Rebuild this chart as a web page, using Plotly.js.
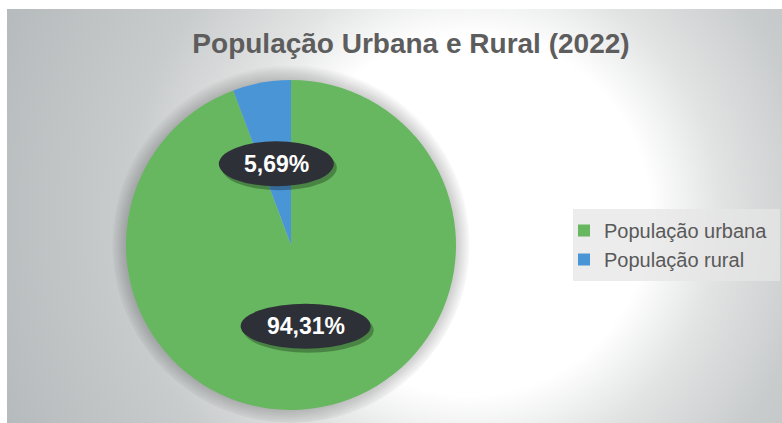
<!DOCTYPE html>
<html>
<head>
<meta charset="utf-8">
<script src="https://cdn.plot.ly/plotly-3.0.1.min.js"></script>
<style>
html,body{margin:0;padding:0;background:#fff;}
#wrap{position:relative;width:782px;height:423px;overflow:hidden;background:#fff;}
#bg{position:absolute;left:7px;top:9px;width:775px;height:414px;
  background:radial-gradient(circle at 463px 206px,#ffffff 0px,#ffffff 180px,#e2e3e3 250px,#c9cccd 345px,#b4b9bb 520px);}
#chart{position:absolute;left:0;top:0;width:782px;height:423px;}
</style>
</head>
<body>
<div id="wrap"><div id="bg"></div><div id="chart"></div></div>
<script>
// ---- data ----
const categories = ['População urbana', 'População rural'];
const values = [94.31, 5.69];
const sliceColors = ['#66b75f', '#4a95d5'];
const chartTitle = 'População Urbana e Rural (2022)';

// ---- layout constants (pixels) ----
const W = 782, H = 423;
const cx = 291, cy = 245, R = 165;
const labelRadiusFrac = 0.5;
const px = x => x / W;
const py = y => 1 - y / H;
const dom = r => ({x: [px(cx - r), px(cx + r)], y: [py(cy + r), py(cy - r)]});

const total = values.reduce((a, b) => a + b, 0);
const fmt = v => (v / total * 100).toFixed(2).replace('.', ',') + '%';

const shapes = [];
const annotations = [];

// legend background box
shapes.push({type: 'rect', xref: 'paper', yref: 'paper', layer: 'below',
  x0: px(573), x1: px(780), y0: py(281), y1: py(209),
  fillcolor: 'rgba(230,230,230,0.75)', line: {width: 0}});

let cum = 0;
values.forEach((v, i) => {
  const mid = (cum + v / 2) / total * 2 * Math.PI; // clockwise from 12 o'clock
  cum += v;
  const lx = cx + Math.sin(mid) * R * labelRadiusFrac;
  const ly = cy - Math.cos(mid) * R * labelRadiusFrac;
  const txt = fmt(v);
  const ew = 40 + 15 * txt.length, eh = 45;
  shapes.push({type: 'circle', xref: 'paper', yref: 'paper',
    x0: px(lx - ew / 2 + 3), x1: px(lx + ew / 2 + 3), y0: py(ly - eh / 2 + 4), y1: py(ly + eh / 2 + 4),
    fillcolor: 'rgba(0,0,0,0.28)', line: {width: 0}});
  shapes.push({type: 'circle', xref: 'paper', yref: 'paper',
    x0: px(lx - ew / 2), x1: px(lx + ew / 2), y0: py(ly - eh / 2), y1: py(ly + eh / 2),
    fillcolor: '#2d3036', line: {width: 0}});
  annotations.push({xref: 'paper', yref: 'paper', x: px(lx), y: py(ly), xanchor: 'center', yanchor: 'middle',
    text: txt, showarrow: false,
    font: {family: 'Liberation Sans, Arial, sans-serif', size: 23, color: '#ffffff', weight: 'bold'}});
});

// soft shadow halo rings behind the pie
const traces = [];
for (let k = 8; k >= 1; k--) {
  traces.push({type: 'pie', labels: ['_shadow'], values: [total], sort: false,
    marker: {colors: ['rgba(0,0,0,0.025)'], line: {width: 0}},
    textinfo: 'none', hoverinfo: 'skip', showlegend: false, domain: dom(R + 1.8 * k)});
}

traces.push({
  type: 'pie',
  labels: categories,
  values: values,
  sort: false,
  direction: 'clockwise',
  rotation: 0,
  marker: {colors: sliceColors, line: {width: 0}},
  textinfo: 'none',
  hoverinfo: 'skip',
  domain: dom(R)
});

const layout = {
  width: W, height: H,
  margin: {l: 0, r: 0, t: 0, b: 0},
  paper_bgcolor: 'rgba(0,0,0,0)',
  plot_bgcolor: 'rgba(0,0,0,0)',
  title: {text: chartTitle, x: px(411), xanchor: 'center', xref: 'paper', y: py(43), yanchor: 'middle', yref: 'paper',
    font: {family: 'Liberation Sans, Arial, sans-serif', size: 28, color: '#5d5d5d', weight: 'bold'}},
  showlegend: true,
  legend: {x: px(564), xanchor: 'left', y: py(245), yanchor: 'middle',
    bgcolor: 'rgba(0,0,0,0)', borderwidth: 0,
    font: {family: 'Liberation Sans, Arial, sans-serif', size: 20, color: '#595959'},
    itemclick: false, itemdoubleclick: false},
  shapes: shapes,
  annotations: annotations
};

Plotly.newPlot('chart', traces, layout, {staticPlot: true, displayModeBar: false});
</script>
</body>
</html>
